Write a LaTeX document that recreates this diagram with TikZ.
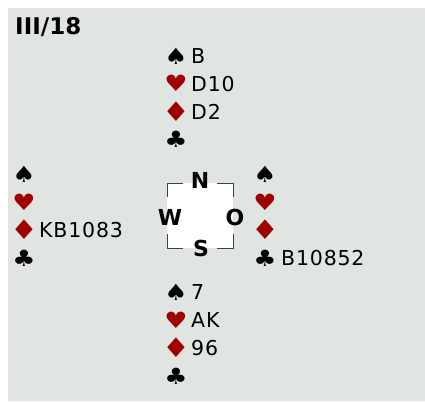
\documentclass[tikz,border=0pt]{standalone}
\usepackage{fontspec}
\setmainfont{DejaVu Sans}
\newfontfamily\cardfont[LetterSpace=4]{DejaVu Sans}
\usetikzlibrary{positioning}
\definecolor{tablegrey}{HTML}{E1E5E1}
\definecolor{suitred}{HTML}{A00000}
\definecolor{bracketgrey}{HTML}{404040}
\newcommand{\suitglyph}[1]{\scalebox{1.15}[1]{#1}}
\newcommand{\bigdiamond}{\scalebox{1.2}[1.2]{♦}}
\tikzset{
  suit/.style={inner sep=0pt,font=\fontsize{22.5}{22.5}\selectfont},
  cards/.style={inner sep=0pt,anchor=west,font=\cardfont\fontsize{20.5}{20.5}\selectfont},
  wind/.style={inner sep=0pt,font=\bfseries\fontsize{22}{22}\selectfont},
}

\begin{document}
\begin{tikzpicture}[x=1pt,y=-1pt]
  \useasboundingbox (0,0) rectangle (425,401);
  \fill[tablegrey] (8,8) rectangle (425,401);
  \node[anchor=west,inner sep=0pt,font=\bfseries\fontsize{23}{23}\selectfont] (title) at (15,27) {III/18};
  % north
  \foreach \s/\c/\t [count=\i from 0] in {♠/black/B,♥/suitred/D10,\bigdiamond/suitred/D2,♣/black/}{
    \node[suit,text=\c] (ns\i) at (176,56+27.7*\i) {\suitglyph{\s}};
    \node[cards] (nc\i) at (191,56+27.7*\i) {\t};
  }
  % west
  \foreach \s/\c/\t [count=\i from 0] in {♠/black/,♥/suitred/,\bigdiamond/suitred/KB1083,♣/black/}{
    \node[suit,text=\c] (ws\i) at (24,174+28*\i) {\suitglyph{\s}};
    \node[cards] (wc\i) at (39,174+28*\i) {\t};
  }
  % east
  \foreach \s/\c/\t [count=\i from 0] in {♠/black/,♥/suitred/,\bigdiamond/suitred/,♣/black/B10852}{
    \node[suit,text=\c] (es\i) at (265,174+28*\i) {\suitglyph{\s}};
    \node[cards] (ec\i) at (281,174+28*\i) {\t};
  }
  % south
  \foreach \s/\c/\t [count=\i from 0] in {♠/black/7,♥/suitred/AK,\bigdiamond/suitred/96,♣/black/}{
    \node[suit,text=\c] (ss\i) at (176,292+28*\i) {\suitglyph{\s}};
    \node[cards] (sc\i) at (191,292+28*\i) {\t};
  }
  % compass
  \fill[white] (167,183) rectangle (233,248);
  \draw[bracketgrey,line width=1pt]
    (183,183) -- (167,183) -- (167,197)
    (217,183) -- (233,183) -- (233,197)
    (183,248) -- (167,248) -- (167,234)
    (217,248) -- (233,248) -- (233,234);
  \node[wind] (north) at (200,180) {N};
  \node[wind] (west) at (170,217) {W};
  \node[wind] (east) at (235,217) {O};
  \node[wind] (south) at (201,248) {S};
\end{tikzpicture}
\end{document}
